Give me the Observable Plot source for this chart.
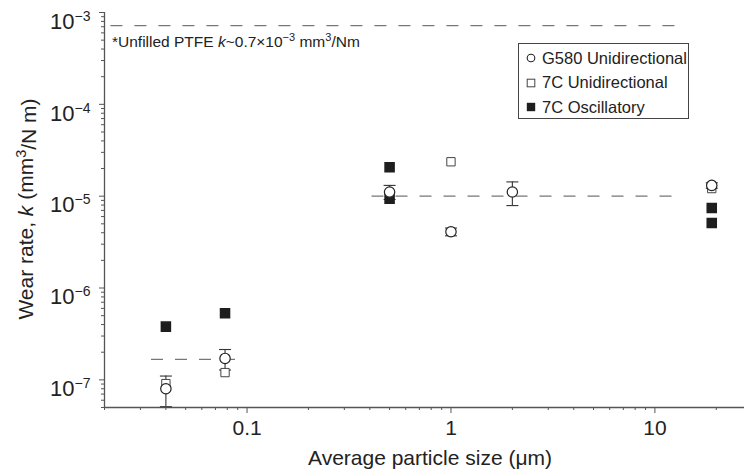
<!DOCTYPE html>
<html><head><meta charset="utf-8">
<script src="https://cdn.jsdelivr.net/npm/d3@7"></script>
<script src="https://cdn.jsdelivr.net/npm/@observablehq/plot@0.6"></script>
<style>
body{margin:0;background:#fff;font-family:"Liberation Sans",Arial,sans-serif;}
#wrap{position:relative;width:744px;height:473px;overflow:hidden;}
.note{position:absolute;left:112px;top:33px;font-size:15.5px;color:#222;white-space:nowrap;line-height:18px;}
.note sup{font-size:11px;vertical-align:6px;line-height:0;}
.legend{position:absolute;left:518px;top:43px;width:171px;height:76px;border:1px solid #444;box-sizing:border-box;font-size:16.5px;color:#222;background:#fff;}
.row{position:absolute;left:7px;height:20px;display:flex;align-items:center;white-space:nowrap;}
.row svg{margin-right:6px;}
</style></head><body><div id="wrap"></div>
<script>
// ---- data ----
const g580X  = [0.04, 0.078, 0.5, 1, 2, 19];
const g580Y  = [8.0e-8, 1.71e-7, 1.11e-5, 4.1e-6, 1.11e-5, 1.31e-5];
const g580Lo = [5.1e-8, 1.28e-7, 9.2e-6, 3.7e-6, 7.9e-6, 1.22e-5];
const g580Hi = [1.1e-7, 2.14e-7, 1.31e-5, 4.5e-6, 1.43e-5, 1.4e-5];

const uniX = [0.04, 0.078, 1, 19];
const uniY = [9.1e-8, 1.2e-7, 2.37e-5, 1.21e-5];

const oscX = [0.04, 0.078, 0.5, 0.5, 19, 19];
const oscY = [3.8e-7, 5.3e-7, 2.07e-5, 9.4e-6, 7.45e-6, 5.1e-6];

const refX1 = [0.0215, 0.41, 0.034];
const refX2 = [14, 13, 0.091];
const refY  = [7.2e-4, 1e-5, 1.67e-7];

const xMajor = [0.1, 1, 10];
const xLabels = ["0.1", "1", "10"];
const xMinor = [0.02,0.03,0.04,0.05,0.06,0.07,0.08,0.09,0.2,0.3,0.4,0.5,0.6,0.7,0.8,0.9,2,3,4,5,6,7,8,9,20];
const yMajor = [1e-7, 1e-6, 1e-5, 1e-4, 1e-3];
const yExp   = ["−7", "−6", "−5", "−4", "−3"];
const yMinor = [];
[-8,-7,-6,-5,-4].forEach(e => { for (let m = 2; m <= 9; m++) { const v = m * Math.pow(10, e); if (v >= 5e-8 && v < 1e-3) yMinor.push(v); } });

const seriesNames = ["G580 Unidirectional", "7C Unidirectional", "7C Oscillatory"];

// ---- tables ----
const g580 = g580X.map((x, i) => ({x, y: g580Y[i], lo: g580Lo[i], hi: g580Hi[i]}));
const uni = uniX.map((x, i) => ({x, y: uniY[i]}));
const osc = oscX.map((x, i) => ({x, y: oscY[i]}));
const refs = refY.map((y, i) => ({y, x1: refX1[i], x2: refX2[i]}));

const cap = {draw(ctx) { ctx.moveTo(-6, 0); ctx.lineTo(6, 0); }};
const axisColor = "#555";

const plot = Plot.plot({
  width: 744, height: 473,
  marginLeft: 104, marginRight: 0, marginTop: 12, marginBottom: 66,
  style: {fontFamily: "'Liberation Sans', Arial, sans-serif", background: "#fff", color: "#222", overflow: "visible"},
  x: {type: "log", domain: [0.02, 27.5]},
  y: {type: "log", domain: [5e-8, 1e-3]},
  marks: [
    Plot.ruleY(refs, {y: "y", x1: "x1", x2: "x2", stroke: "#777", strokeWidth: 1.3, strokeDasharray: "12,12"}),
    Plot.axisX({ticks: xMinor, tickSize: 3, tickFormat: () => "", stroke: axisColor, label: null}),
    Plot.axisX({ticks: xMajor, tickSize: 6, tickPadding: 7, tickFormat: d => xLabels[xMajor.indexOf(d)], stroke: axisColor, fontSize: 21, fill: "#222", label: null}),
    Plot.axisY({ticks: yMinor, tickSize: 3, tickFormat: () => "", stroke: axisColor, label: null}),
    Plot.axisY({ticks: yMajor, tickSize: 5, tickPadding: 9, tickFormat: d => "10|" + yExp[yMajor.indexOf(d)], stroke: axisColor, fontSize: 22, fill: "#222", label: null}),
    Plot.ruleY([5e-8], {stroke: axisColor, strokeWidth: 1.3}),
    Plot.ruleX([0.02], {stroke: axisColor, strokeWidth: 1.3}),
    Plot.ruleX(g580, {x: "x", y1: "lo", y2: "hi", stroke: "#333", strokeWidth: 1.1}),
    Plot.dot(g580, {x: "x", y: "lo", symbol: cap, stroke: "#333", strokeWidth: 1.1}),
    Plot.dot(g580, {x: "x", y: "hi", symbol: cap, stroke: "#333", strokeWidth: 1.1}),
    Plot.dot(uni, {x: "x", y: "y", symbol: "square", r: 4.7, fill: "#fff", stroke: "#444", strokeWidth: 1}),
    Plot.dot(osc, {x: "x", y: "y", symbol: "square", r: 5.1, fill: "#1e1e1e", stroke: "#1e1e1e"}),
    Plot.dot(g580, {x: "x", y: "y", r: 5.2, fill: "#fff", stroke: "#222", strokeWidth: 1.2})
  ]
});

// superscript tick labels
d3.select(plot).selectAll('g[aria-label="y-axis tick label"] text').each(function() {
  const t = d3.select(this);
  const parts = t.text().split("|");
  t.text(parts[0]).attr("dy", "0.42em");
  t.append("tspan").attr("dy", "-8").attr("font-size", "14px").text(parts[1]);
});

// y-axis label
const yl = d3.select(plot).append("text")
  .attr("transform", "translate(33,209) rotate(-90)")
  .attr("text-anchor", "middle")
  .attr("font-size", 21).attr("fill", "#222");
yl.append("tspan").text("Wear rate, ");
yl.append("tspan").attr("font-style", "italic").text("k");
yl.append("tspan").text(" (mm");
yl.append("tspan").attr("dy", "-0.5em").attr("font-size", "14.5px").text("3");
yl.append("tspan").attr("dy", "0.5em").text("/N m)");

// x-axis label
d3.select(plot).append("text")
  .attr("x", 430).attr("y", 465)
  .attr("text-anchor", "middle")
  .attr("font-size", 21).attr("fill", "#222")
  .text("Average particle size (μm)");

const wrap = document.getElementById("wrap");
wrap.appendChild(plot);

// annotation
const note = document.createElement("div");
note.className = "note";
note.innerHTML = "*Unfilled PTFE <i>k</i>~0.7×10<sup>−3</sup> mm<sup>3</sup>/Nm";
wrap.appendChild(note);

// legend
const leg = document.createElement("div");
leg.className = "legend";
const syms = [
  '<circle cx="5" cy="5" r="3.8" fill="#fff" stroke="#222" stroke-width="1.1"/>',
  '<rect x="1.2" y="1.2" width="7.6" height="7.6" fill="#fff" stroke="#444" stroke-width="1"/>',
  '<rect x="0.8" y="0.8" width="8.4" height="8.4" fill="#1e1e1e"/>'
];
seriesNames.forEach((name, i) => {
  const r = document.createElement("div");
  r.className = "row";
  r.style.top = (4 + i * 24.5) + "px";
  r.innerHTML = '<svg width="10" height="10">' + syms[i] + '</svg><span>' + name + '</span>';
  leg.appendChild(r);
});
wrap.appendChild(leg);
</script>
</body></html>
